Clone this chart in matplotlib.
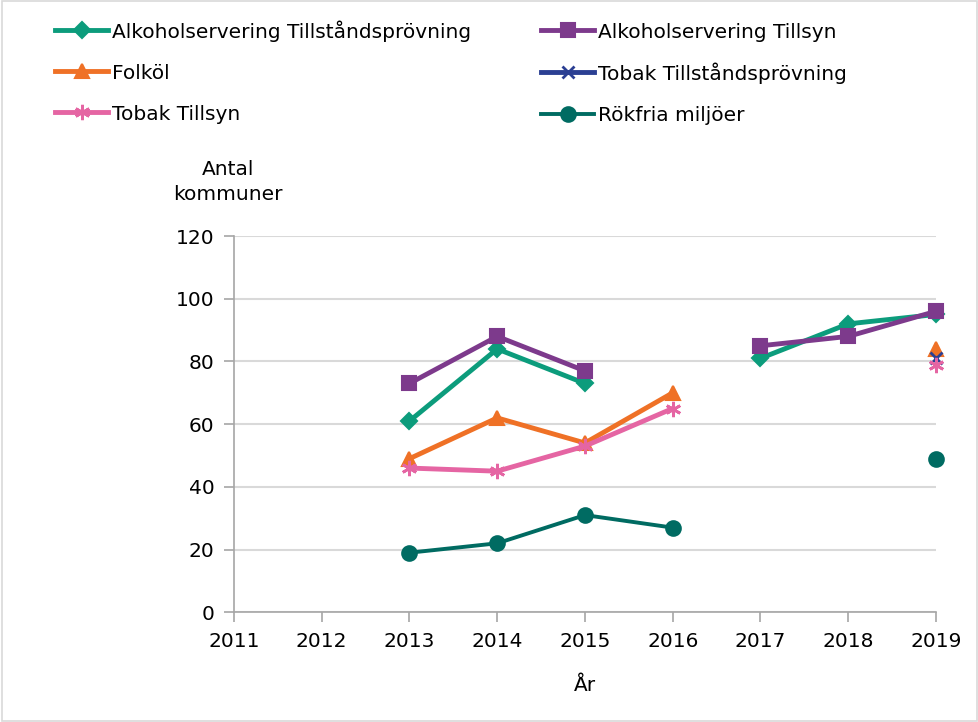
import numpy as np
import matplotlib
matplotlib.use("Agg")
import matplotlib.pyplot as plt
from matplotlib.patches import Rectangle

nan = np.nan
years = [2011, 2012, 2013, 2014, 2015, 2016, 2017, 2018, 2019]

alk_tillstand = [nan, nan, 61, 84, 73, nan, 81, 92, 95]
alk_tillsyn = [nan, nan, 73, 88, 77, nan, 85, 88, 96]
folkol = [nan, nan, 49, 62, 54, 70, nan, nan, 84]
tobak_tillstand = [nan, nan, nan, nan, nan, nan, nan, nan, 81]
tobak_tillsyn = [nan, nan, 46, 45, 53, 65, nan, nan, 79]
rokfria = [nan, nan, 19, 22, 31, 27, nan, nan, 49]

plt.rcParams['font.family'] = ['DejaVu Sans']
plt.rcParams['font.size'] = 14.5

fig = plt.figure(figsize=(9.79, 7.22), dpi=100)
ax = fig.add_axes([0.239, 0.152, 0.717, 0.521])

asterisk = (6, 2, 0)
series = [
    ("Alkoholservering Tillståndsprövning", alk_tillstand, "#0c9c7c", "D", 8.5, 3.5),
    ("Alkoholservering Tillsyn", alk_tillsyn, "#7d3a8c", "s", 10.5, 3.5),
    ("Folköl", folkol, "#ef7126", "^", 10.5, 3.5),
    ("Tobak Tillståndsprövning", tobak_tillstand, "#2b3f93", "x", 9, 3.5),
    ("Tobak Tillsyn", tobak_tillsyn, "#e565a3", asterisk, 11, 3.5),
    ("Rökfria miljöer", rokfria, "#006b62", "o", 10.5, 2.8),
]

handles = {}
for name, vals, col, mk, ms, lw in series:
    ln, = ax.plot(years, vals, color=col, marker=mk, markersize=ms, linewidth=lw,
                  markeredgewidth=1.5 if mk not in ("x", asterisk) else 2,
                  label=name, clip_on=False)
    handles[name] = ln

ax.set_xlim(2011, 2019)
ax.set_ylim(0, 120)
ax.set_yticks(range(0, 121, 20))
ax.set_xticks(years)
ax.grid(axis='y', color='#d9d9d9', linewidth=1.5)
ax.set_axisbelow(True)
for s in ['top', 'right']:
    ax.spines[s].set_visible(False)
for s in ['left', 'bottom']:
    ax.spines[s].set_color('#a6a6a6')
    ax.spines[s].set_linewidth(1.2)
ax.tick_params(axis='both', colors='#a6a6a6', length=7, width=1.2, labelcolor='black',
               labelsize=14.5, pad=7)
ax.set_xlabel("År", fontsize=14.5, labelpad=18)

fig.text(0.233, 0.748, "Antal\nkommuner", ha='center', va='center', fontsize=14.5,
         linespacing=1.45)

order = ["Alkoholservering Tillståndsprövning", "Folköl", "Tobak Tillsyn",
         "Alkoholservering Tillsyn", "Tobak Tillståndsprövning", "Rökfria miljöer"]
fig.legend([handles[n] for n in order], order, ncol=2, loc='upper left',
           bbox_to_anchor=(0.038, 0.997), frameon=False, fontsize=14.5,
           handlelength=2.6, handleheight=1.0, handletextpad=0.2,
           columnspacing=3.5, labelspacing=1.05)

fig.add_artist(Rectangle((0.002, 0.002), 0.996, 0.996, transform=fig.transFigure,
                         fill=False, edgecolor='#d9d9d9', linewidth=1.2))

fig.savefig("out.png", dpi=100)
